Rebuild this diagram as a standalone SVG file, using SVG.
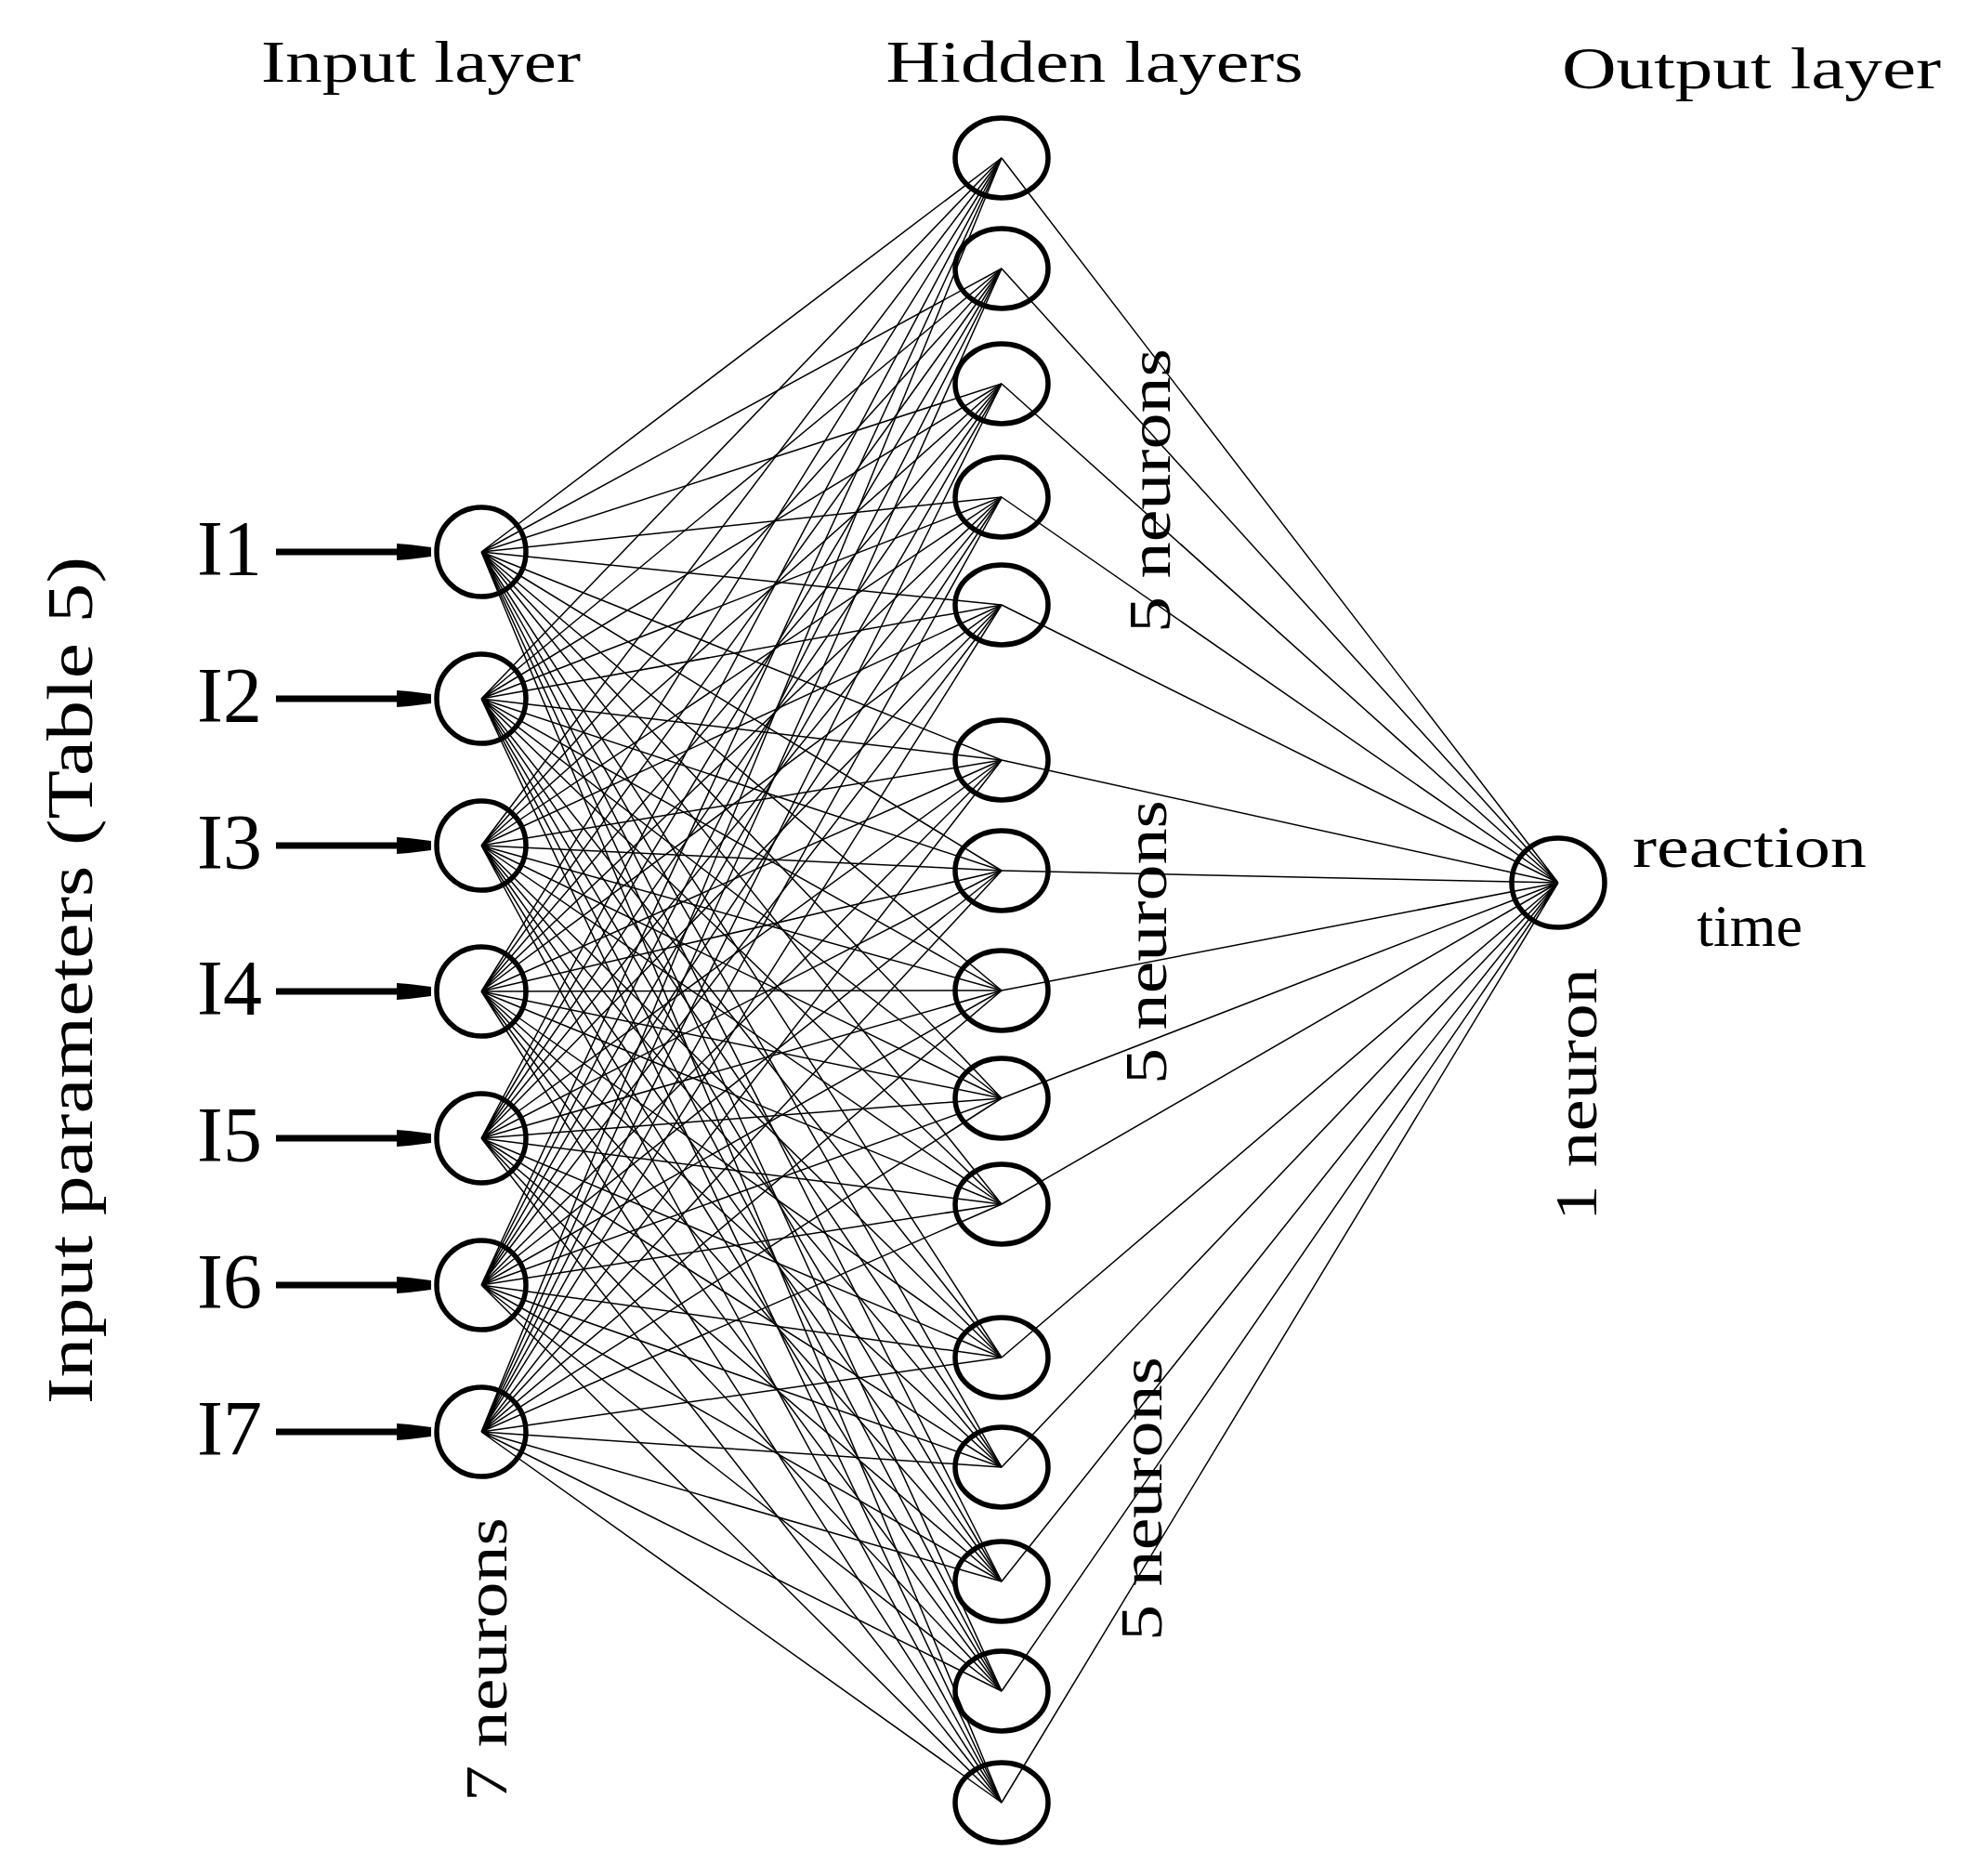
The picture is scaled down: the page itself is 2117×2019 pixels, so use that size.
<svg xmlns="http://www.w3.org/2000/svg" xmlns:xlink="http://www.w3.org/1999/xlink" width="2117" height="2019" viewBox="0 0 2117 2019">
<style>
.t{font-family:"Liberation Serif","DejaVu Serif",serif;fill:#000}
.n{fill:#fff;stroke:#000;stroke-width:5.5}
.c{fill:none;stroke:#000;stroke-width:1.5}
.a{stroke:#000;stroke-width:7}
</style>
<defs>
<g id="arrowhead"><polygon points="427,-9 440,-8 464,-5 464,5 440,8 427,9" fill="#000"/></g>
</defs>
<rect width="2117" height="2019" fill="#fff"/>
<g id="titles">
<text class="t" x="453" y="88" font-size="64" text-anchor="middle" textLength="344" lengthAdjust="spacingAndGlyphs">Input layer</text>
<text class="t" x="1178" y="88" font-size="64" text-anchor="middle" textLength="449" lengthAdjust="spacingAndGlyphs">Hidden layers</text>
<text class="t" x="1885" y="95" font-size="64" text-anchor="middle" textLength="408" lengthAdjust="spacingAndGlyphs">Output layer</text>
<text class="t" font-size="70" text-anchor="middle" transform="translate(99 1055) rotate(-90)" textLength="912" lengthAdjust="spacingAndGlyphs">Input parameters (Table 5)</text>
<text class="t" font-size="64" text-anchor="middle" transform="translate(545 1786) rotate(-90)" textLength="306" lengthAdjust="spacingAndGlyphs">7 neurons</text>
<text class="t" font-size="64" text-anchor="middle" transform="translate(1259 528) rotate(-90)" textLength="306" lengthAdjust="spacingAndGlyphs">5 neurons</text>
<text class="t" font-size="64" text-anchor="middle" transform="translate(1255 1014) rotate(-90)" textLength="306" lengthAdjust="spacingAndGlyphs">5 neurons</text>
<text class="t" font-size="64" text-anchor="middle" transform="translate(1250 1613) rotate(-90)" textLength="306" lengthAdjust="spacingAndGlyphs">5 neurons</text>
<text class="t" font-size="64" text-anchor="middle" transform="translate(1718 1178) rotate(-90)" textLength="272" lengthAdjust="spacingAndGlyphs">1 neuron</text>
<text class="t" x="1883" y="933" font-size="64" text-anchor="middle" textLength="252" lengthAdjust="spacingAndGlyphs">reaction</text>
<text class="t" x="1883" y="1018" font-size="64" text-anchor="middle">time</text>
</g>
<g id="connectors">
<path class="c" d="M518 594L1078 170M518 594L1078 289M518 594L1078 413M518 594L1078 535M518 594L1078 651M518 594L1078 818M518 594L1078 937M518 594L1078 1066M518 594L1078 1182M518 594L1078 1296M518 594L1078 1461M518 594L1078 1579M518 594L1078 1702M518 594L1078 1820M518 594L1078 1940"/>
<path class="c" d="M518 752L1078 170M518 752L1078 289M518 752L1078 413M518 752L1078 535M518 752L1078 651M518 752L1078 818M518 752L1078 937M518 752L1078 1066M518 752L1078 1182M518 752L1078 1296M518 752L1078 1461M518 752L1078 1579M518 752L1078 1702M518 752L1078 1820M518 752L1078 1940"/>
<path class="c" d="M518 910L1078 170M518 910L1078 289M518 910L1078 413M518 910L1078 535M518 910L1078 651M518 910L1078 818M518 910L1078 937M518 910L1078 1066M518 910L1078 1182M518 910L1078 1296M518 910L1078 1461M518 910L1078 1579M518 910L1078 1702M518 910L1078 1820M518 910L1078 1940"/>
<path class="c" d="M518 1067L1078 170M518 1067L1078 289M518 1067L1078 413M518 1067L1078 535M518 1067L1078 651M518 1067L1078 818M518 1067L1078 937M518 1067L1078 1066M518 1067L1078 1182M518 1067L1078 1296M518 1067L1078 1461M518 1067L1078 1579M518 1067L1078 1702M518 1067L1078 1820M518 1067L1078 1940"/>
<path class="c" d="M518 1225L1078 170M518 1225L1078 289M518 1225L1078 413M518 1225L1078 535M518 1225L1078 651M518 1225L1078 818M518 1225L1078 937M518 1225L1078 1066M518 1225L1078 1182M518 1225L1078 1296M518 1225L1078 1461M518 1225L1078 1579M518 1225L1078 1702M518 1225L1078 1820M518 1225L1078 1940"/>
<path class="c" d="M518 1383L1078 170M518 1383L1078 289M518 1383L1078 413M518 1383L1078 535M518 1383L1078 651M518 1383L1078 818M518 1383L1078 937M518 1383L1078 1066M518 1383L1078 1182M518 1383L1078 1296M518 1383L1078 1461M518 1383L1078 1579M518 1383L1078 1702M518 1383L1078 1820M518 1383L1078 1940"/>
<path class="c" d="M518 1541L1078 170M518 1541L1078 289M518 1541L1078 413M518 1541L1078 535M518 1541L1078 651M518 1541L1078 818M518 1541L1078 937M518 1541L1078 1066M518 1541L1078 1182M518 1541L1078 1296M518 1541L1078 1461M518 1541L1078 1579M518 1541L1078 1702M518 1541L1078 1820M518 1541L1078 1940"/>
<path class="c" d="M1078 170L1677 950M1078 289L1677 950M1078 413L1677 950M1078 535L1677 950M1078 651L1677 950M1078 818L1677 950M1078 937L1677 950M1078 1066L1677 950M1078 1182L1677 950M1078 1296L1677 950M1078 1461L1677 950M1078 1579L1677 950M1078 1702L1677 950M1078 1820L1677 950M1078 1940L1677 950"/>
<line class="a" x1="297" y1="594" x2="440" y2="594"/><use xlink:href="#arrowhead" transform="translate(0 594)"/>
<line class="a" x1="297" y1="752" x2="440" y2="752"/><use xlink:href="#arrowhead" transform="translate(0 752)"/>
<line class="a" x1="297" y1="910" x2="440" y2="910"/><use xlink:href="#arrowhead" transform="translate(0 910)"/>
<line class="a" x1="297" y1="1067" x2="440" y2="1067"/><use xlink:href="#arrowhead" transform="translate(0 1067)"/>
<line class="a" x1="297" y1="1225" x2="440" y2="1225"/><use xlink:href="#arrowhead" transform="translate(0 1225)"/>
<line class="a" x1="297" y1="1383" x2="440" y2="1383"/><use xlink:href="#arrowhead" transform="translate(0 1383)"/>
<line class="a" x1="297" y1="1541" x2="440" y2="1541"/><use xlink:href="#arrowhead" transform="translate(0 1541)"/>
</g>
<g id="input-nodes" fill="none" stroke="#000" stroke-width="5.5">
<g id="I1"><circle cx="518" cy="594" r="48"/><text class="t" stroke="none" x="282" y="619" font-size="84" text-anchor="end">I1</text></g>
<g id="I2"><circle cx="518" cy="752" r="48"/><text class="t" stroke="none" x="282" y="777" font-size="84" text-anchor="end">I2</text></g>
<g id="I3"><circle cx="518" cy="910" r="48"/><text class="t" stroke="none" x="282" y="935" font-size="84" text-anchor="end">I3</text></g>
<g id="I4"><circle cx="518" cy="1067" r="48"/><text class="t" stroke="none" x="282" y="1092" font-size="84" text-anchor="end">I4</text></g>
<g id="I5"><circle cx="518" cy="1225" r="48"/><text class="t" stroke="none" x="282" y="1250" font-size="84" text-anchor="end">I5</text></g>
<g id="I6"><circle cx="518" cy="1383" r="48"/><text class="t" stroke="none" x="282" y="1408" font-size="84" text-anchor="end">I6</text></g>
<g id="I7"><circle cx="518" cy="1541" r="48"/><text class="t" stroke="none" x="282" y="1566" font-size="84" text-anchor="end">I7</text></g>
</g>
<g id="hidden-nodes" fill="none" stroke="#000" stroke-width="5.5">
<g id="H1"><ellipse cx="1078" cy="170" rx="50" ry="43"/></g>
<g id="H2"><ellipse cx="1078" cy="289" rx="50" ry="43"/></g>
<g id="H3"><ellipse cx="1078" cy="413" rx="50" ry="43"/></g>
<g id="H4"><ellipse cx="1078" cy="535" rx="50" ry="43"/></g>
<g id="H5"><ellipse cx="1078" cy="651" rx="50" ry="43"/></g>
<g id="H6"><ellipse cx="1078" cy="818" rx="50" ry="43"/></g>
<g id="H7"><ellipse cx="1078" cy="937" rx="50" ry="43"/></g>
<g id="H8"><ellipse cx="1078" cy="1066" rx="50" ry="43"/></g>
<g id="H9"><ellipse cx="1078" cy="1182" rx="50" ry="43"/></g>
<g id="H10"><ellipse cx="1078" cy="1296" rx="50" ry="43"/></g>
<g id="H11"><ellipse cx="1078" cy="1461" rx="50" ry="43"/></g>
<g id="H12"><ellipse cx="1078" cy="1579" rx="50" ry="43"/></g>
<g id="H13"><ellipse cx="1078" cy="1702" rx="50" ry="43"/></g>
<g id="H14"><ellipse cx="1078" cy="1820" rx="50" ry="43"/></g>
<g id="H15"><ellipse cx="1078" cy="1940" rx="50" ry="43"/></g>
</g>
<g id="output-node" fill="none" stroke="#000" stroke-width="5.5">
<ellipse cx="1677" cy="950" rx="50" ry="48"/>
</g>
</svg>
